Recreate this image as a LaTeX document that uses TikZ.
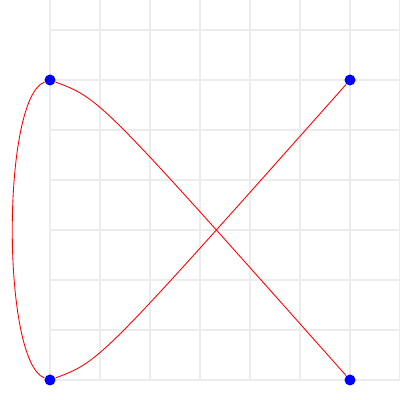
\documentclass[tikz,border=0pt]{standalone}
\usepackage{tikz}

\tikzset{
    gridline/.style={gray!15, line width=0.8pt},
    vertex/.style={circle, fill=blue, inner sep=0pt, minimum size=0.22cm},
    edge/.style={red, line width=0.5pt}
}

\begin{document}
\begin{tikzpicture}[scale=1]

\useasboundingbox (-1,-0.4) rectangle (7,7.6);

% Background grid
\draw[gridline] (0,0) grid (7,7.6);

% Vertices at the four corners
\node[vertex] (tl) at (0,6) {};
\node[vertex] (tr) at (6,6) {};
\node[vertex] (bl) at (0,0) {};
\node[vertex] (br) at (6,0) {};

% Crossing curves
\draw[edge] (tl) .. controls (1,5.625) .. (br);
\draw[edge] (bl) .. controls (1,0.375) .. (tr);

% Loop on the left side
\draw[edge] (tl) .. controls (-0.97,5.64) and (-0.97,0.36) .. (bl);

\end{tikzpicture}
\end{document}
